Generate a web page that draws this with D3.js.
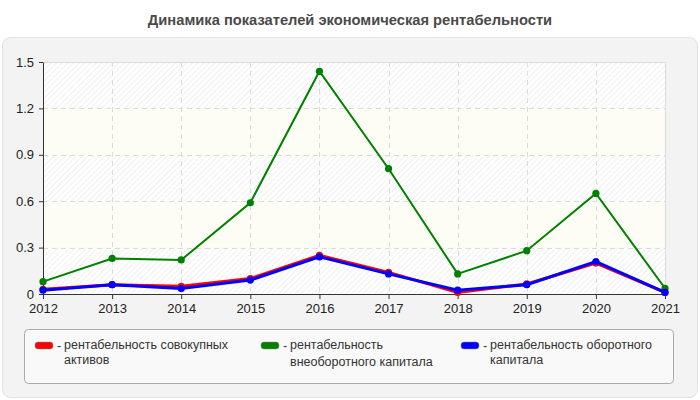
<!DOCTYPE html>
<html>
<head>
<meta charset="utf-8">
<script src="https://cdn.jsdelivr.net/npm/d3@7"></script>
<style>
  body { margin: 0; background: #fff; }
  svg text { font-family: "Liberation Sans", Arial, sans-serif; }
</style>
</head>
<body>
<div id="chart"></div>
<script>
const years = [2012, 2013, 2014, 2015, 2016, 2017, 2018, 2019, 2020, 2021]
const yTicks = [0, 0.3, 0.6, 0.9, 1.2, 1.5]
const totalAssets = [0.03, 0.06, 0.05, 0.10, 0.25, 0.14, 0.01, 0.065, 0.20, 0.01]
const fixedCapital = [0.08, 0.23, 0.22, 0.59, 1.44, 0.81, 0.13, 0.28, 0.65, 0.037]
const workingCapital = [0.025, 0.06, 0.035, 0.09, 0.24, 0.13, 0.025, 0.06, 0.21, 0.01]

const series = [
  { name: ["рентабельность совокупных", "активов"], color: "red", values: totalAssets, width: 3, lx: 35, lh: 15 },
  { name: ["рентабельность", "внеоборотного капитала"], color: "green", values: fixedCapital, width: 2, lx: 261, lh: 17 },
  { name: ["рентабельность оборотного", "капитала"], color: "blue", values: workingCapital, width: 3, lx: 461, lh: 15 },
]

const width = 700, height = 400
const margin = { left: 43, right: 35, top: 62, bottom: 106 }

const svg = d3.select("#chart").append("svg")
  .attr("width", width).attr("height", height)

const defs = svg.append("defs")
const hatch = defs.append("pattern")
  .attr("id", "hatch").attr("patternUnits", "userSpaceOnUse")
  .attr("width", 4).attr("height", 4)
  .attr("patternTransform", "rotate(45)")
hatch.append("rect").attr("width", 4).attr("height", 4).attr("fill", "#fff")
hatch.append("line").attr("x1", 0).attr("y1", 0).attr("x2", 0).attr("y2", 4)
  .attr("stroke", "#ececec").attr("stroke-width", 1.5)

// title
svg.append("text")
  .attr("x", width / 2).attr("y", 25)
  .attr("text-anchor", "middle")
  .attr("font-size", 14.7).attr("font-weight", "bold").attr("fill", "#4a4a4a")
  .text("Динамика показателей экономическая рентабельности")

// outer panel
svg.append("rect")
  .attr("x", 2.5).attr("y", 37.5).attr("width", 695).attr("height", 360).attr("rx", 8)
  .attr("fill", "#f3f3f3").attr("stroke", "#e2e2e2")

const x = d3.scaleLinear()
  .domain(d3.extent(years))
  .range([margin.left, width - margin.right])
const y = d3.scaleLinear()
  .domain([0, 1.5])
  .range([height - margin.bottom, margin.top])

// plot background bands
const bands = d3.pairs(yTicks)
svg.append("g").selectAll("rect")
  .data(bands)
  .join("rect")
    .attr("x", x.range()[0]).attr("width", x.range()[1] - x.range()[0])
    .attr("y", d => y(d[1])).attr("height", d => y(d[0]) - y(d[1]))
    .attr("fill", (d, i) => i % 2 == 0 ? "url(#hatch)" : "#fdfdf5")

svg.append("path")
  .attr("d", `M${x.range()[0]},${y(1.5) + 0.5}H${x.range()[1] + 0.5}V${y(0)}`)
  .attr("fill", "none").attr("stroke", "#dcdcdc")

// grid
const grid = svg.append("g")
  .attr("stroke", "#dcdcdc").attr("stroke-dasharray", "5,4")
grid.selectAll(".h")
  .data(yTicks.slice(1, -1))
  .join("line")
    .attr("x1", x.range()[0]).attr("x2", x.range()[1])
    .attr("y1", d => Math.round(y(d)) + 0.5).attr("y2", d => Math.round(y(d)) + 0.5)
grid.selectAll(".v")
  .data(years.slice(1, -1))
  .join("line")
    .attr("x1", d => Math.round(x(d)) + 0.5).attr("x2", d => Math.round(x(d)) + 0.5)
    .attr("y1", y(1.5)).attr("y2", y(0))

// axes
const xAxis = svg.append("g")
  .attr("transform", `translate(0,${y(0)})`)
  .call(d3.axisBottom(x).tickValues(years).tickFormat(d3.format("d")).tickSize(5).tickSizeOuter(0))
const yAxis = svg.append("g")
  .attr("transform", `translate(${margin.left},0)`)
  .call(d3.axisLeft(y).tickValues(yTicks).tickFormat(d => d == 0 ? "0" : d3.format(".1f")(d)).tickSize(4).tickSizeOuter(0))
;[xAxis, yAxis].forEach(a => {
  a.select(".domain").attr("stroke", "#333")
  a.selectAll(".tick line").attr("stroke", "#333")
  a.selectAll(".tick text").attr("font-size", 13).attr("fill", "#222")
    .attr("font-family", "'Liberation Sans', Arial, sans-serif")
})
xAxis.selectAll(".tick text").attr("dy", "0.85em")
yAxis.selectAll(".tick text").attr("dx", "-2")

// lines
const line = d3.line()
  .x((d, i) => x(years[i]))
  .y(d => y(d))

const drawOrder = [series[1], series[0], series[2]]
drawOrder.forEach(s => {
  svg.append("path")
    .datum(s.values)
    .attr("fill", "none")
    .attr("stroke", s.color)
    .attr("stroke-width", s.width)
    .attr("d", line)
  svg.append("g").selectAll("circle")
    .data(s.values)
    .join("circle")
      .attr("cx", (d, i) => x(years[i]))
      .attr("cy", d => y(d))
      .attr("r", 3.6)
      .attr("fill", s.color)
})

// legend
svg.append("rect")
  .attr("x", 24.5).attr("y", 329.5).attr("width", 649).attr("height", 54).attr("rx", 4)
  .attr("fill", "#f9f9f9").attr("stroke", "#aaa")

const legend = svg.append("g").selectAll("g")
  .data(series)
  .join("g")
    .attr("transform", d => `translate(${d.lx},342)`)
legend.append("rect")
  .attr("width", 18).attr("height", 7).attr("rx", 3)
  .attr("fill", d => d.color).attr("stroke", "#888").attr("stroke-width", 0.5)
legend.append("text")
  .attr("x", 22).attr("y", 8)
  .attr("font-size", 12.5).attr("fill", "#333")
  .text("-")
legend.append("text")
  .attr("font-size", 12.5).attr("fill", "#333")
  .each(function(s) {
    d3.select(this).selectAll("tspan")
      .data(s.name)
      .join("tspan")
        .attr("x", 29)
        .attr("y", (d, i) => 7 + i * s.lh)
        .text(d => d)
  })
</script>
</body>
</html>
